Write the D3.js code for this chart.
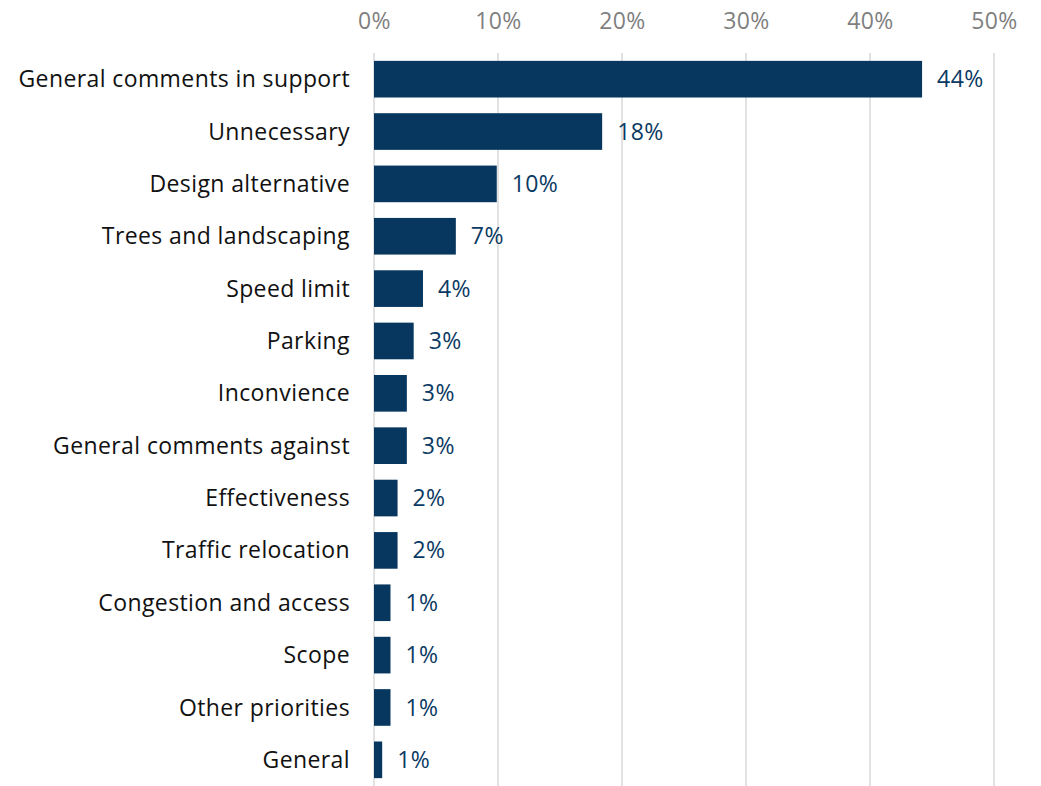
<!DOCTYPE html>
<html>
<head>
<meta charset="utf-8">
<script src="https://cdn.jsdelivr.net/npm/d3@7"></script>
<style>
  html, body { margin: 0; padding: 0; background: #fff; }
  svg text { font-family: "Open Sans", "Noto Sans", sans-serif; letter-spacing: 0.4px; }
</style>
</head>
<body>
<svg id="chart" width="1041" height="786"></svg>
<script>
const categories = [
  "General comments in support", "Unnecessary", "Design alternative",
  "Trees and landscaping", "Speed limit", "Parking", "Inconvience",
  "General comments against", "Effectiveness", "Traffic relocation",
  "Congestion and access", "Scope", "Other priorities", "General"
];
const values = [44.2, 18.4, 9.9, 6.6, 3.95, 3.2, 2.65, 2.65, 1.9, 1.9, 1.33, 1.33, 1.33, 0.66];
const valueLabels = ["44%", "18%", "10%", "7%", "4%", "3%", "3%", "3%", "2%", "2%", "1%", "1%", "1%", "1%"];
const tickValues = [0, 10, 20, 30, 40, 50];
const tickLabels = ["0%", "10%", "20%", "30%", "40%", "50%"];

const svg = d3.select("#chart");
const x = d3.scaleLinear().domain([0, 50]).range([374, 994]);
const y = d3.scaleBand().domain(categories).range([53, 786]).paddingInner(0.3).paddingOuter(0.15);

// gridlines
svg.append("g").selectAll("line").data(tickValues).join("line")
  .attr("x1", d => x(d)).attr("x2", d => x(d))
  .attr("y1", 53).attr("y2", 786)
  .attr("stroke", "#d9d9d9").attr("stroke-width", 1.5);

// top axis labels
const axis = d3.axisTop(x).tickValues(tickValues).tickFormat((d, i) => tickLabels[i]).tickSize(0).tickPadding(0);
const gAxis = svg.append("g").attr("transform", "translate(0,29)").call(axis);
gAxis.select(".domain").remove();
gAxis.selectAll("text").attr("fill", "#7f7f7f").style("font-size", "23px")
  .style("font-family", "\"Open Sans\", sans-serif").style("letter-spacing", "0.4px").attr("dy", 0);

// bars
svg.append("g").selectAll("rect").data(values).join("rect")
  .attr("x", x(0)).attr("y", (d, i) => y(categories[i]))
  .attr("width", d => x(d) - x(0)).attr("height", y.bandwidth())
  .attr("fill", "#07375f");

// category labels
svg.append("g").selectAll("text").data(categories).join("text")
  .attr("x", 350).attr("y", d => y(d) + y.bandwidth() / 2)
  .attr("dy", "0.35em").attr("text-anchor", "end")
  .attr("fill", "#111").style("font-size", "23px").text(d => d);

// value labels
svg.append("g").selectAll("text").data(values).join("text")
  .attr("x", d => x(d) + 15).attr("y", (d, i) => y(categories[i]) + y.bandwidth() / 2)
  .attr("dy", "0.35em").attr("fill", "#0b3a63").style("font-size", "23px")
  .text((d, i) => valueLabels[i]);
</script>
</body>
</html>
